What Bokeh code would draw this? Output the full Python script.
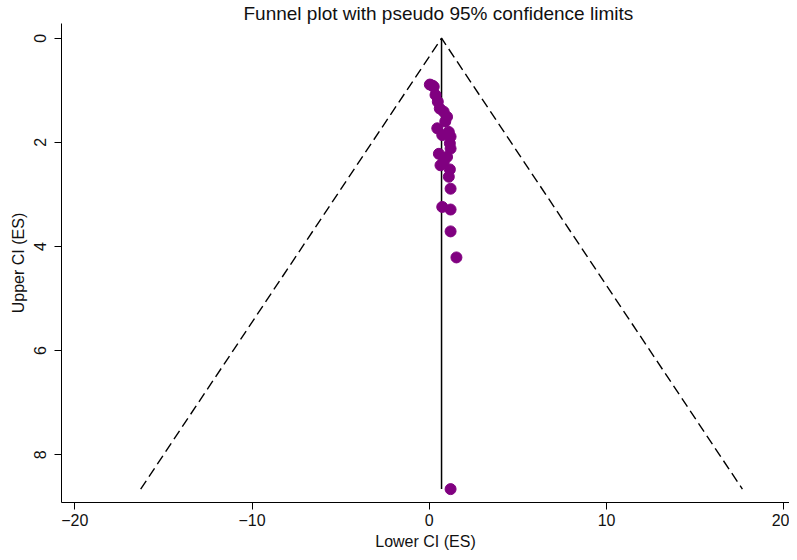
from bokeh.plotting import figure
from bokeh.models import Range1d, FixedTicker, ColumnDataSource
from bokeh.embed import file_html
from bokeh.resources import INLINE

title_text = "Funnel plot with pseudo 95% confidence limits"
x_label = "Lower CI (ES)"
y_label = "Upper CI (ES)"
x_ticks = [-20, -10, 0, 10, 20]
y_ticks = [0, 2, 4, 6, 8]

# effect sizes and their standard errors
es = [0.03, 0.18, 0.25, 0.35, 0.48, 0.59, 0.81, 1.00, 0.90, 0.45, 1.10, 1.20, 0.73,
      1.16, 1.20, 0.54, 1.00, 0.81, 0.63, 1.16, 1.10, 1.20, 0.73, 1.20, 1.20, 1.53, 1.20]
se = [0.89, 0.91, 0.93, 1.09, 1.22, 1.35, 1.41, 1.51, 1.60, 1.73, 1.80, 1.89, 1.86,
      2.02, 2.12, 2.22, 2.28, 2.38, 2.44, 2.52, 2.66, 2.89, 3.24, 3.29, 3.71, 4.21, 8.66]
pooled_es = 0.69
z = 1.96

FONT = "Liberation Sans"

p = figure(width=789, height=552, output_backend="svg", toolbar_location=None,
           x_range=Range1d(-20.75, 20.32), y_range=Range1d(8.917, -0.283),
           min_border_left=61, min_border_right=0, min_border_top=22, min_border_bottom=0,
           title=title_text)
p.title.text_font = FONT
p.title.text_font_size = "19px"
p.title.text_font_style = "normal"
p.title.align = "left"
p.title.text_color = "#111111"
p.title.standoff = 0
p.title.offset = 182

p.grid.visible = False
p.outline_line_color = None
p.background_fill_color = "white"
p.border_fill_color = "white"

se_max = max(se)
# pseudo 95% confidence limits
p.line([pooled_es - z * se_max, pooled_es, pooled_es + z * se_max], [se_max, 0, se_max],
       line_color="black", line_width=1.4, line_dash="10 5")
# pooled estimate line
p.line([pooled_es, pooled_es], [0, se_max], line_color="black", line_width=1.5)

src = ColumnDataSource(dict(es=es, se=se))
p.scatter("es", "se", source=src, size=11, fill_color="#800080", line_color="#800080")

for ax in (p.xaxis[0], p.yaxis[0]):
    ax.axis_line_color = "black"
    ax.major_tick_line_color = "black"
    ax.major_tick_out = 7
    ax.major_tick_in = 0
    ax.minor_tick_line_color = None
    ax.major_label_text_font = FONT
    ax.major_label_text_font_size = "16px"
    ax.major_label_text_color = "#111111"
    ax.axis_label_text_font = FONT
    ax.axis_label_text_font_size = "16px"
    ax.axis_label_text_font_style = "normal"
    ax.axis_label_text_color = "#111111"

p.xaxis.ticker = FixedTicker(ticks=x_ticks)
p.yaxis.ticker = FixedTicker(ticks=y_ticks)
p.xaxis.axis_label = x_label
p.yaxis.axis_label = y_label
p.yaxis.major_label_orientation = "vertical"
p.xaxis.major_label_standoff = 4
p.xaxis.axis_label_standoff = 4
p.yaxis.major_label_standoff = 8
p.yaxis.axis_label_standoff = 5

open("out.html", "w").write(file_html(p, INLINE))
